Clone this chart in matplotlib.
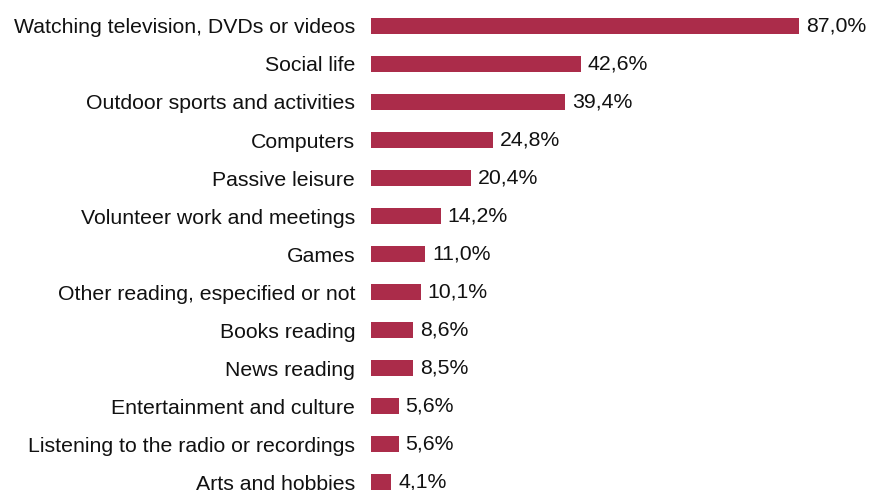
import matplotlib
matplotlib.use('Agg')
from matplotlib import pyplot as plt

categories = [
    'Watching television, DVDs or videos',
    'Social life',
    'Outdoor sports and activities',
    'Computers',
    'Passive leisure',
    'Volunteer work and meetings',
    'Games',
    'Other reading, especified or not',
    'Books reading',
    'News reading',
    'Entertainment and culture',
    'Listening to the radio or recordings',
    'Arts and hobbies',
]
values = [87.0, 42.6, 39.4, 24.8, 20.4, 14.2, 11.0, 10.1, 8.6, 8.5, 5.6, 5.6, 4.1]

plt.rcParams['font.family'] = ['Liberation Sans', 'DejaVu Sans']

fig = plt.figure(figsize=(8.69, 4.9), dpi=100)
ax = fig.add_axes([371 / 869, 0, 1 - 371 / 869, 1])

pos = list(range(len(values)))
ax.barh(pos, values, height=0.42, color='#ab2c4a')

ax.set_xlim(0, 101.2)
ax.set_ylim(12.21, -0.684)

for y, v in zip(pos, values):
    ax.text(v + 1.4, y, ('%.1f' % v).replace('.', ',') + '%',
            va='center', ha='left', fontsize=15.3, color='#111111')

ax.set_yticks(pos)
ax.set_yticklabels(categories, fontsize=15.3, color='#111111')
ax.tick_params(axis='y', length=0, pad=11.5)
ax.set_xticks([])
for s in ax.spines.values():
    s.set_visible(False)

fig.savefig('out.png', dpi=100)
